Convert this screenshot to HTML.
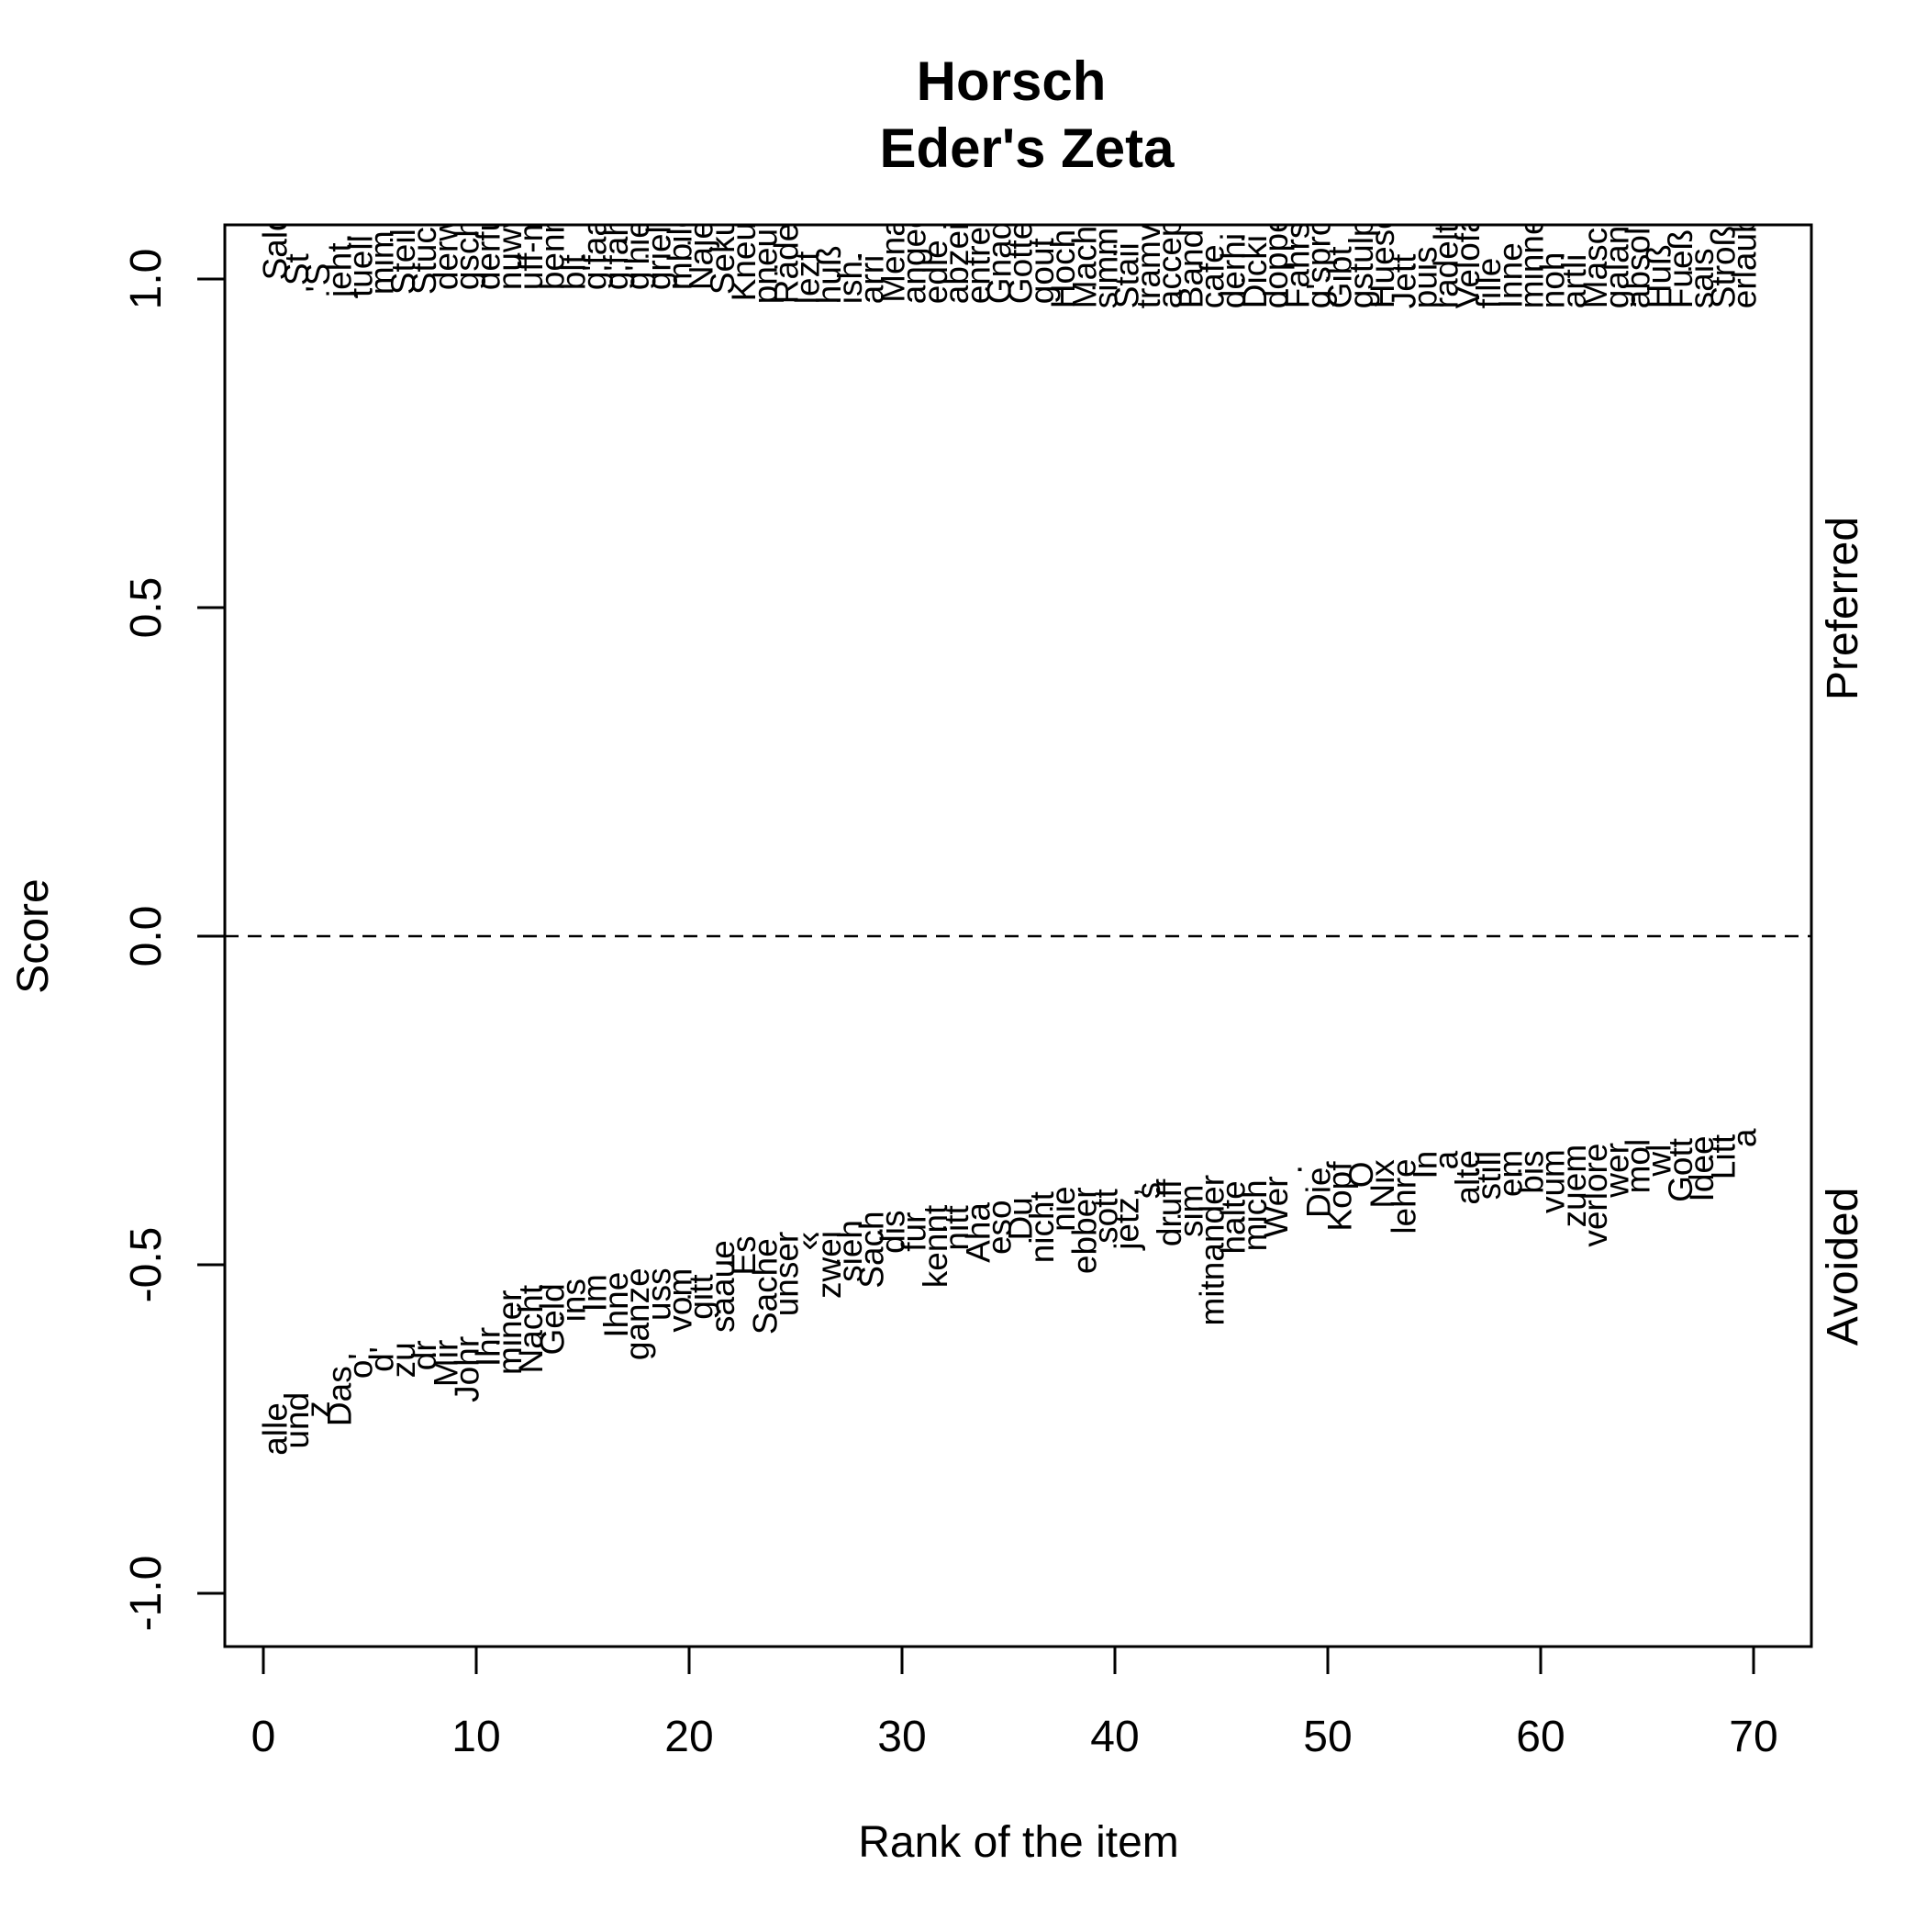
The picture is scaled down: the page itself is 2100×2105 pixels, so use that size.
<!DOCTYPE html>
<html><head><meta charset="utf-8"><style>
html,body{margin:0;padding:0;background:#fff}
svg text{font-family:"Liberation Sans",Arial,sans-serif;fill:#000}
</style></head><body>
<svg id="chart" width="2100" height="2100" viewBox="0 0 2100 2100" xmlns="http://www.w3.org/2000/svg">
<defs><clipPath id="plotclip"><rect x="245" y="245" width="1729" height="1549"/></clipPath></defs>
<rect x="0" y="0" width="2100" height="2100" fill="#fff"/>
<text x="1102" y="109" font-size="60" font-weight="bold" text-anchor="middle">Horsch</text>
<text x="1119" y="182" font-size="60" font-weight="bold" text-anchor="middle">Eder's Zeta</text>
<g id="axes"></g>
<g id="words" clip-path="url(#plotclip)"></g>
<rect x="245" y="245" width="1729" height="1549" fill="none" stroke="#000" stroke-width="3"/>
<text x="1110" y="2023" font-size="48" text-anchor="middle">Rank of the item</text>
<text transform="translate(52,1020) rotate(-90)" font-size="48" text-anchor="middle">Score</text>
<text transform="translate(2024,663) rotate(-90)" font-size="48" text-anchor="middle">Preferred</text>
<text transform="translate(2024,1380) rotate(-90)" font-size="48" text-anchor="middle">Avoided</text>
</svg>
<script>
const xTicks = [0,10,20,30,40,50,60,70];
const yTicks = [-1.0,-0.5,0.0,0.5,1.0];
const yTickLabels = ["-1.0","-0.5","0.0","0.5","1.0"];
const preferredWords = ["Saldo","St","'S","jeht.","tuell","mim","Steil","Stuck","derwi","gschi","derfu","nuwwe","uff-m","benni","blt","g'faal","g'fahr","g'hiel","griel","mbild","Naje","Seku","Kneu","pneu","Räde","lezt","huß","ish.","arri","Menar","angeo","edle","abzei","entre","Gnad","Gotte","gout","Hoch","Mach","simm","Staii","tramv","accep","Band","cafe","derhi","Dicki","doppe","Fahrs","g'spro","Gibt","gstulp","Hueso","Jett","puis","radelt","Velofa","fille","Inne","minne","noh","artli","Masch","galant","absolu","Huß","Fueß","sais","Stroß","erlaub"];
const preferredScores = [0.998,0.99,0.98,0.972,0.972,0.976,0.976,0.976,0.983,0.983,0.983,0.983,0.983,0.983,0.983,0.983,0.983,0.983,0.983,0.983,0.983,0.976,0.966,0.962,0.962,0.962,0.962,0.962,0.962,0.964,0.962,0.962,0.962,0.962,0.962,0.962,0.962,0.955,0.955,0.955,0.955,0.955,0.955,0.955,0.955,0.955,0.955,0.955,0.955,0.955,0.955,0.955,0.955,0.955,0.955,0.955,0.955,0.955,0.955,0.955,0.955,0.955,0.955,0.955,0.955,0.955,0.955,0.955,0.955,0.955];
const avoidedWords = ["alle","und","z","Das","o'","d'","zu","dr","Mir","Johr","Ihr","miner","Nacht","Geld","ins","Im","Ihne","ganze","uss","vom","gitt","saaue","Es","Sache","unser","«","zwei","sieh","Sach","dis","fur","kennt","nitt","Aha","eso","Du","nicht","nie","ebber","sott","jetz,","s","druff","sim","mitnander","halte","mich","Wer","·","Die","Kopf","O","Nix","lehre","In","a","alte","still","em","bis","vum","zuem","verlore","wer","mol","wl","Gott","Idee","Litt","a"];
const avoidedScores = [-0.75,-0.737,-0.72,-0.70,-0.654,-0.644,-0.645,-0.638,-0.65,-0.659,-0.625,-0.603,-0.598,-0.583,-0.554,-0.543,-0.561,-0.575,-0.545,-0.554,-0.549,-0.533,-0.486,-0.533,-0.514,-0.464,-0.50,-0.479,-0.477,-0.45,-0.45,-0.472,-0.444,-0.451,-0.443,-0.43,-0.443,-0.415,-0.448,-0.426,-0.43,-0.387,-0.421,-0.418,-0.478,-0.428,-0.425,-0.412,-0.355,-0.39,-0.396,-0.363,-0.377,-0.396,-0.348,-0.341,-0.367,-0.364,-0.361,-0.359,-0.373,-0.38,-0.394,-0.356,-0.35,-0.341,-0.356,-0.354,-0.336,-0.307];

const NS = "http://www.w3.org/2000/svg";
function xScale(r){ return 287 + (r/70)*1624; }
function yScale(v){ return 1020 - v*716; }
function mk(tag, attrs, parent){ const e=document.createElementNS(NS,tag); for(const k in attrs) e.setAttribute(k, attrs[k]); parent.appendChild(e); return e; }

const axes = document.getElementById('axes');
const words = document.getElementById('words');

const xl = mk('line',{x1:xScale(0),x2:xScale(70),y1:1794,y2:1794,stroke:'#000','stroke-width':3},axes);


xTicks.forEach(t=>{
  const tk = mk('line',{x1:xScale(t),x2:xScale(t),y1:1794,y2:1824,stroke:'#000','stroke-width':3},axes);
  
  
  const lb = mk('text',{x:xScale(t),y:1908,'font-size':48,'text-anchor':'middle'},axes);
  lb.textContent = t;
  
  
});
const yl = mk('line',{x1:245,x2:245,y1:yScale(-1),y2:yScale(1),stroke:'#000','stroke-width':3},axes);


yTicks.forEach((t,i)=>{
  const tk = mk('line',{x1:215,x2:245,y1:yScale(t),y2:yScale(t),stroke:'#000','stroke-width':3},axes);
  
  
  const lb = mk('text',{transform:`translate(175,${yScale(t)}) rotate(-90)`,'font-size':48,'text-anchor':'middle'},axes);
  lb.textContent = yTickLabels[i];
  
  
});
const zl = mk('line',{x1:245,x2:1974,y1:yScale(0),y2:yScale(0),stroke:'#000','stroke-width':2.5,'stroke-dasharray':'15 10'},axes);



preferredWords.forEach((w,i)=>{
  const x = xScale(i+1) - 10, y = yScale(preferredScores[i]);
  const t = mk('text',{transform:`translate(${x},${y}) rotate(-90)`,'font-size':37,'dominant-baseline':'central','text-anchor':'start'},words);
  t.textContent = w;
  
  
});
avoidedWords.forEach((w,i)=>{
  const x = xScale(i+1) - 10, y = yScale(avoidedScores[i]);
  const t = mk('text',{transform:`translate(${x},${y}) rotate(-90)`,'font-size':37,'dominant-baseline':'central','text-anchor':'middle'},words);
  t.textContent = w;
  
  
});
</script>
</body></html>
